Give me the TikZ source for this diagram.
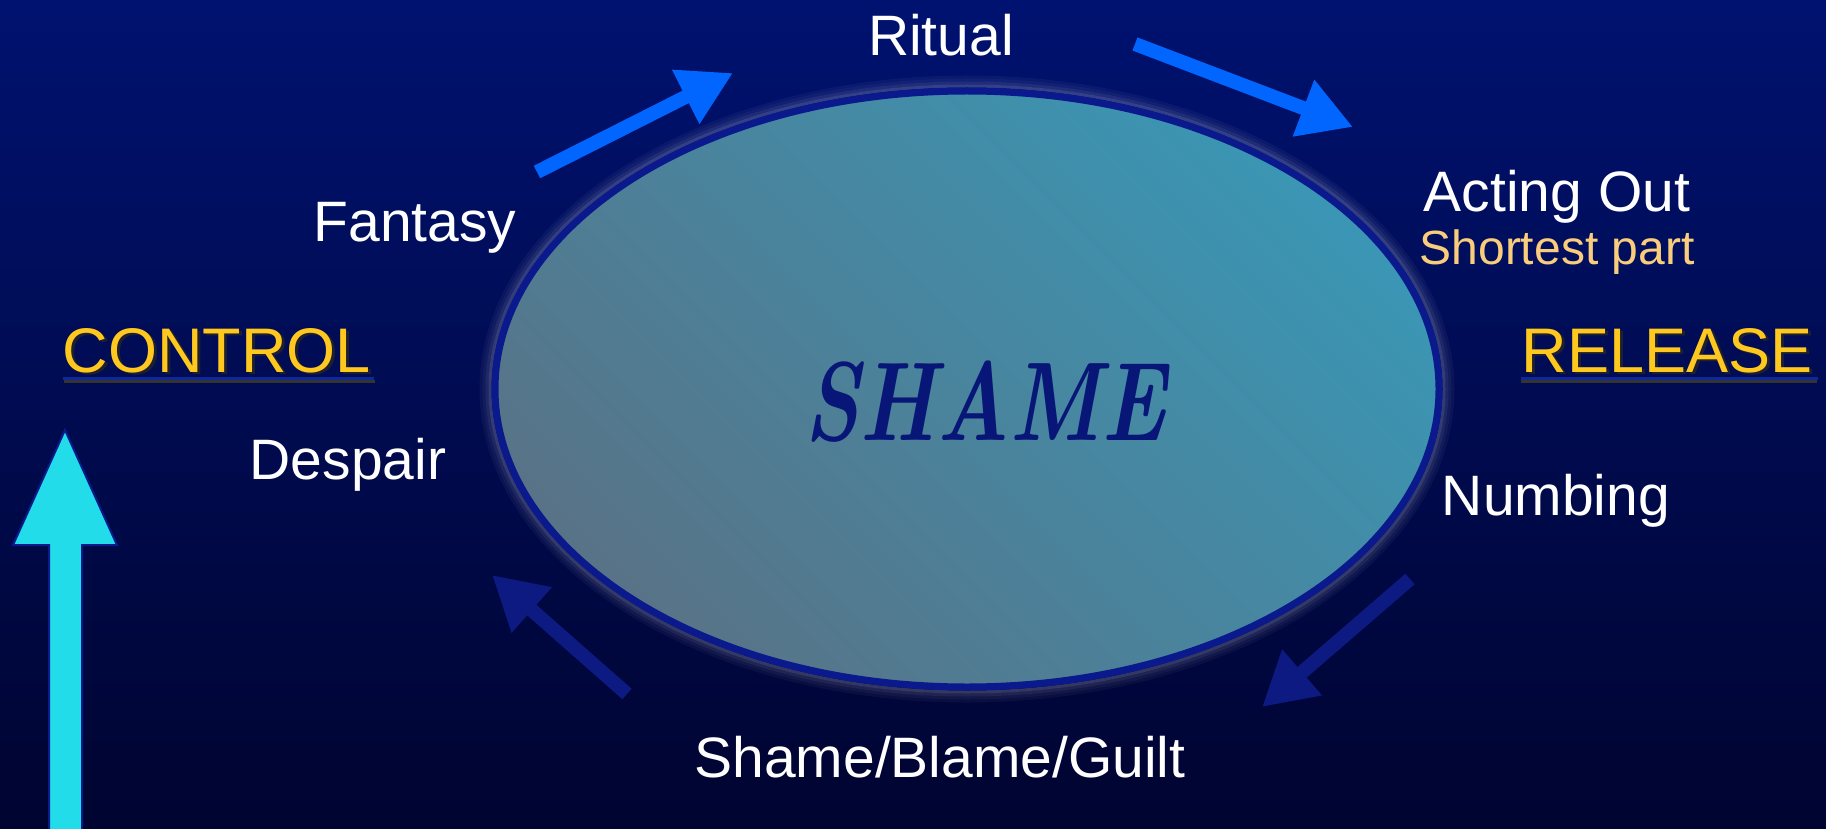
\documentclass[tikz,border=0pt]{standalone}
\usepackage{fontspec}
\setsansfont{Liberation Sans}
\usetikzlibrary{arrows.meta,shapes.geometric}
\definecolor{bgtop}{RGB}{0,18,112}
\definecolor{bgbot}{RGB}{0,4,48}
\definecolor{goldtxt}{RGB}{255,200,30}
\definecolor{peach}{RGB}{250,205,125}
\definecolor{brightarrow}{RGB}{0,102,255}
\definecolor{darkarrow}{RGB}{12,26,130}
\definecolor{rim}{RGB}{10,25,140}
\definecolor{ulblue}{RGB}{15,40,150}
\definecolor{cyanarrow}{RGB}{34,220,234}
\definecolor{shametxt}{RGB}{8,22,120}
\definecolor{fillA}{RGB}{58,150,180}
\definecolor{fillB}{RGB}{88,115,135}
\tikzset{
  lbl/.style={text=white, font=\sffamily\fontsize{57}{60}\selectfont, anchor=base, inner sep=0pt},
  sublbl/.style={text=peach, font=\sffamily\fontsize{48}{52}\selectfont, anchor=base, inner sep=0pt},
  headlbl/.style={text=goldtxt, font=\sffamily\fontsize{63}{66}\selectfont, anchor=base, inner sep=0pt},
  shadowlbl/.style={text=black!85, font=\sffamily\fontsize{63}{66}\selectfont, anchor=base, inner sep=0pt, opacity=0.8},
  blockarrow/.style={line width=14pt, -{Triangle[length=53pt,width=57pt]}},
}
\begin{document}
\begin{tikzpicture}[x=1pt,y=-1pt]
\useasboundingbox (0,0) rectangle (1826,829);
\fill[top color=bgtop, bottom color=bgbot] (0,0) rectangle (1826,829);
% glow around ellipse
\foreach \d/\o in {14/0.04,11/0.07,8/0.12,5/0.2}{
  \draw[white, line width=3pt, opacity=\o] (967,389) ellipse ({472+\d} and {298+\d});
}
% ellipse
\fill[top color=fillA, bottom color=fillB, shading angle=-45] (967,389) ellipse (472 and 298);
\draw[rim, line width=7pt] (967,389) ellipse (472 and 298);
\node[ellipse, minimum width=944pt, minimum height=596pt, inner sep=0pt] (center) at (967,389) {};
\node[text=shametxt, font=\rmfamily\bfseries\itshape\fontsize{112}{116}\selectfont, xscale=0.76, anchor=base, inner sep=0pt] (shame) at (985,440) {SHAME};
% labels
\node[lbl] (ritual) at (941,56) {Ritual};
\node[lbl] (fantasy) at (415,241) {Fantasy};
\node[lbl] (acting) at (1557,212) {Acting Out};
\node[sublbl] (shortest) at (1557,265) {Shortest part};
\node[lbl] (despair) at (348,479) {Despair};
\node[lbl] (numbing) at (1556,515) {Numbing};
\node[lbl] (sbg) at (940,777) {Shame/Blame/Guilt};
% CONTROL / RELEASE with shadow and underline
\node[shadowlbl] at (220,374) {CONTROL};
\node[headlbl] (control) at (217,372) {CONTROL};
\draw[black!80, line width=3pt] (64,381) -- (375,381);
\draw[ulblue, line width=3pt] (control.base west) ++(0,6) -- ++(311,0);
\node[shadowlbl] at (1670,374) {RELEASE};
\node[headlbl] (release) at (1667,372) {RELEASE};
\draw[black!80, line width=3pt] (1521,381) -- (1817,381);
\draw[ulblue, line width=3pt] (release.base west) ++(0,6) -- ++(296,0);
% cycle arrows
\coordinate (a1s) at (537,172); \coordinate (a1e) at (733,73);
\coordinate (a2s) at (1135,44); \coordinate (a2e) at (1353,127);
\coordinate (a3s) at (1410,579); \coordinate (a3e) at (1262,707);
\coordinate (a4s) at (627,694); \coordinate (a4e) at (492,575);
\draw[blockarrow, brightarrow] (a1s) -- (a1e);
\draw[blockarrow, brightarrow] (a2s) -- (a2e);
\draw[blockarrow, darkarrow] (a3s) -- (a3e);
\draw[blockarrow, darkarrow] (a4s) -- (a4e);
% big up arrow
\draw[fill=cyanarrow, draw=rim, line width=2pt, line join=miter]
  (65,430) -- (117,545) -- (82,545) -- (82,835) -- (49,835) -- (49,545) -- (13,545) -- cycle;
\end{tikzpicture}
\end{document}
